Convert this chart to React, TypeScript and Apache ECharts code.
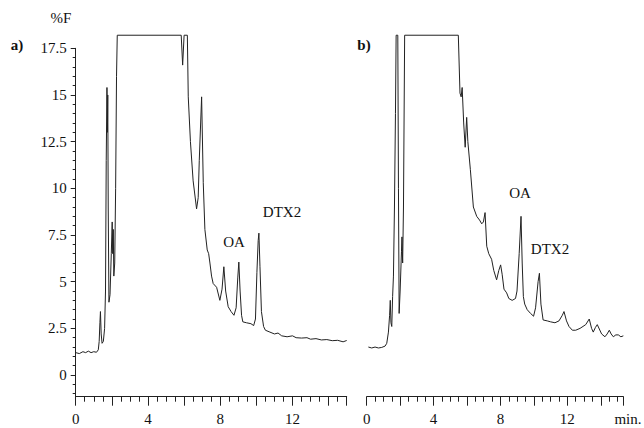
import { useEffect, useRef } from "react";
import * as echarts from "echarts";

// Panel a) chromatogram: [time (min), %F]
const traceA: number[][] = [
  [0, 1.2], [0.2, 1.15], [0.4, 1.25], [0.55, 1.2], [0.7, 1.28], [0.85, 1.2], [1.0, 1.25], [1.15, 1.22],
  [1.25, 1.35], [1.3, 1.8], [1.34, 2.8], [1.37, 3.4], [1.41, 2.2], [1.46, 1.7], [1.53, 1.8], [1.6, 2.5],
  [1.65, 4.5], [1.69, 11.5], [1.73, 15.4], [1.755, 13.0], [1.775, 15.0], [1.8, 9.0], [1.84, 3.9], [1.9, 4.3],
  [1.97, 6.5], [2.02, 8.2], [2.05, 6.5], [2.08, 7.8], [2.11, 5.3], [2.16, 6.0], [2.21, 10.0], [2.26, 16.0],
  [2.3, 18.2], [5.84, 18.2], [5.92, 16.6], [6.0, 18.2], [6.18, 18.2], [6.23, 14.9], [6.35, 12.5], [6.5, 10.4],
  [6.69, 8.9], [6.78, 9.5], [6.84, 11.5], [6.97, 14.9], [7.06, 10.3], [7.15, 7.8], [7.28, 6.7], [7.36, 6.5],
  [7.43, 6.0], [7.52, 5.3], [7.61, 4.9], [7.8, 4.7], [7.98, 4.0], [8.1, 4.6], [8.2, 5.8], [8.3, 4.5],
  [8.44, 3.66], [8.6, 3.4], [8.76, 3.2], [8.88, 3.6], [8.97, 5.2], [9.03, 6.05], [9.1, 4.5], [9.18, 3.2],
  [9.25, 2.85], [9.45, 2.8], [9.7, 2.75], [9.85, 2.65], [9.95, 3.0], [10.03, 5.5], [10.1, 7.2], [10.14, 7.6],
  [10.2, 5.8], [10.28, 3.4], [10.4, 2.6], [10.5, 2.4], [10.75, 2.3], [11.0, 2.2], [11.2, 2.25], [11.4, 2.1],
  [11.7, 2.05], [12.0, 2.1], [12.2, 2.0], [12.5, 1.98], [12.8, 2.0], [13.0, 1.92], [13.3, 1.95], [13.6, 1.88],
  [13.9, 1.9], [14.2, 1.84], [14.5, 1.86], [14.8, 1.78], [15.0, 1.85],
];

// Panel b) chromatogram: [time (min), %F]
const traceB: number[][] = [
  [0.1, 1.5], [0.3, 1.45], [0.5, 1.5], [0.7, 1.45], [0.9, 1.48], [1.1, 1.55], [1.2, 1.7], [1.3, 2.3],
  [1.37, 3.2], [1.41, 4.0], [1.45, 2.8], [1.5, 2.6], [1.55, 4.2], [1.6, 5.3], [1.66, 9], [1.72, 14],
  [1.76, 18.2], [1.86, 18.2], [1.9, 10], [1.94, 3.3], [2.0, 4.5], [2.08, 6.6], [2.11, 7.4], [2.15, 6.0],
  [2.2, 9], [2.27, 18.2], [5.48, 18.2], [5.58, 15.1], [5.65, 14.9], [5.71, 15.4], [5.8, 13.5], [5.89, 12.2],
  [5.98, 13.8], [6.05, 12.5], [6.2, 11.0], [6.38, 9.0], [6.58, 8.5], [6.75, 8.3], [6.88, 8.1], [6.98, 8.2],
  [7.08, 8.7], [7.18, 6.9], [7.3, 6.5], [7.47, 6.2], [7.6, 5.6], [7.77, 5.1], [7.9, 5.6], [8.01, 5.9],
  [8.1, 5.4], [8.21, 4.6], [8.37, 4.4], [8.5, 4.1], [8.7, 4.0], [8.9, 4.1], [8.99, 4.5], [9.12, 6.5],
  [9.23, 8.5], [9.3, 6.0], [9.37, 4.2], [9.45, 3.8], [9.6, 3.5], [9.8, 3.3], [9.98, 3.15], [10.1, 3.6],
  [10.25, 5.0], [10.33, 5.45], [10.42, 3.8], [10.55, 2.95], [10.8, 2.9], [11.0, 2.85], [11.26, 2.8], [11.5, 2.9],
  [11.7, 3.2], [11.8, 3.4], [11.95, 2.9], [12.1, 2.6], [12.3, 2.4], [12.5, 2.4], [12.76, 2.5], [13.1, 2.7],
  [13.31, 3.0], [13.45, 2.5], [13.55, 2.3], [13.68, 2.55], [13.79, 2.7], [14.05, 2.2], [14.25, 2.05], [14.38, 2.2],
  [14.51, 2.4], [14.62, 2.2], [14.75, 2.05], [14.9, 2.15], [15.05, 2.15], [15.2, 2.05], [15.35, 2.1],
];

const yLabelValues = [0, 2.5, 5, 7.5, 10, 12.5, 15, 17.5];

const FONT = "Liberation Serif";
const INK = "#222";

export default function App() {
  const ref = useRef<HTMLDivElement>(null);

  useEffect(() => {
    if (!ref.current) return;
    const chart = echarts.init(ref.current, null, { renderer: "svg" });

    const yMin = -1.16;
    const yMax = 17.5;
    const top = 48.3;
    const height = 348.4;
    const pxPerY = height / (yMax - yMin);
    const leftA = 75.7;
    const pxPerMinA = 271 / 15;
    const leftB = 366.7;
    const pxPerMinB = 16.72;
    const maxB = 15.35;

    const mainX = (grid: number, max: number) => ({
      type: "value", gridIndex: grid, position: "bottom", min: 0, max, interval: 2,
      axisLine: { show: true, onZero: false, lineStyle: { color: INK, width: 1 } },
      axisTick: { show: true, inside: false, length: 9, lineStyle: { color: INK, width: 1 } },
      minorTick: { show: true, splitNumber: 4, length: 5, lineStyle: { color: INK, width: 1 } },
      axisLabel: {
        margin: 15, fontSize: 15, fontFamily: FONT, color: "#111",
        showMaxLabel: false,
        formatter: (v: number) => (Math.abs(v % 4) < 1e-9 ? String(v) : ""),
      },
      splitLine: { show: false },
      minorSplitLine: { show: false },
    });

    chart.setOption({
      animation: false,
      backgroundColor: "#fff",
      textStyle: { fontFamily: FONT },
      grid: [
        { left: leftA, top, width: 15 * pxPerMinA, height },
        { left: leftB, top, width: maxB * pxPerMinB, height },
        { left: leftA, top, width: 10, height: (yMax + 1) * pxPerY },
      ],
      xAxis: [
        mainX(0, 15),
        mainX(1, maxB),
        { type: "value", gridIndex: 2, show: false, min: 0, max: 1 },
      ],
      yAxis: [
        {
          type: "value", gridIndex: 0, position: "left", min: yMin, max: yMax,
          axisLine: { show: true, onZero: false, lineStyle: { color: INK, width: 1 } },
          axisTick: { show: true, customValues: yLabelValues, length: 5, lineStyle: { color: INK } },
          axisLabel: { customValues: yLabelValues, margin: 9, fontSize: 15, fontFamily: FONT, color: "#111" },
          splitLine: { show: false },
        },
        { type: "value", gridIndex: 1, min: yMin, max: yMax, show: false },
        {
          type: "value", gridIndex: 2, position: "left", min: -1, max: yMax, interval: 0.5,
          axisLine: { show: true, onZero: false, lineStyle: { color: INK, width: 1, opacity: 0 } },
          axisTick: { show: true, length: 3, lineStyle: { color: INK } },
          axisLabel: { show: false },
          splitLine: { show: false },
        },
      ],
      series: [
        {
          type: "line", xAxisIndex: 0, yAxisIndex: 0, data: traceA,
          showSymbol: false, clip: false,
          lineStyle: { color: INK, width: 1 }, itemStyle: { color: INK },
        },
        {
          type: "line", xAxisIndex: 1, yAxisIndex: 1, data: traceB,
          showSymbol: false, clip: false,
          lineStyle: { color: INK, width: 1 }, itemStyle: { color: INK },
        },
      ],
      graphic: [
        { type: "text", x: 61, y: 18, style: { text: "%F", fontSize: 15, fontFamily: FONT, fill: "#111", align: "center", verticalAlign: "middle" } },
        { type: "text", x: 17, y: 45, style: { text: "a)", fontSize: 15, fontWeight: "bold", fontFamily: FONT, fill: "#111", align: "center", verticalAlign: "middle" } },
        { type: "text", x: 364, y: 45, style: { text: "b)", fontSize: 15, fontWeight: "bold", fontFamily: FONT, fill: "#111", align: "center", verticalAlign: "middle" } },
        { type: "text", x: 234, y: 242, style: { text: "OA", fontSize: 15, fontFamily: FONT, fill: "#111", align: "center", verticalAlign: "middle" } },
        { type: "text", x: 282, y: 212, style: { text: "DTX2", fontSize: 15, fontFamily: FONT, fill: "#111", align: "center", verticalAlign: "middle" } },
        { type: "text", x: 520, y: 193, style: { text: "OA", fontSize: 15, fontFamily: FONT, fill: "#111", align: "center", verticalAlign: "middle" } },
        { type: "text", x: 550, y: 249, style: { text: "DTX2", fontSize: 15, fontFamily: FONT, fill: "#111", align: "center", verticalAlign: "middle" } },
        { type: "text", x: 628, y: 419, style: { text: "min.", fontSize: 15, fontFamily: FONT, fill: "#111", align: "center", verticalAlign: "middle" } },
      ],
    });

    return () => chart.dispose();
  }, []);

  return (
    <div
      ref={ref}
      style={{ position: "fixed", left: 0, top: 0, width: 644, height: 428, background: "#fff" }}
    />
  );
}
